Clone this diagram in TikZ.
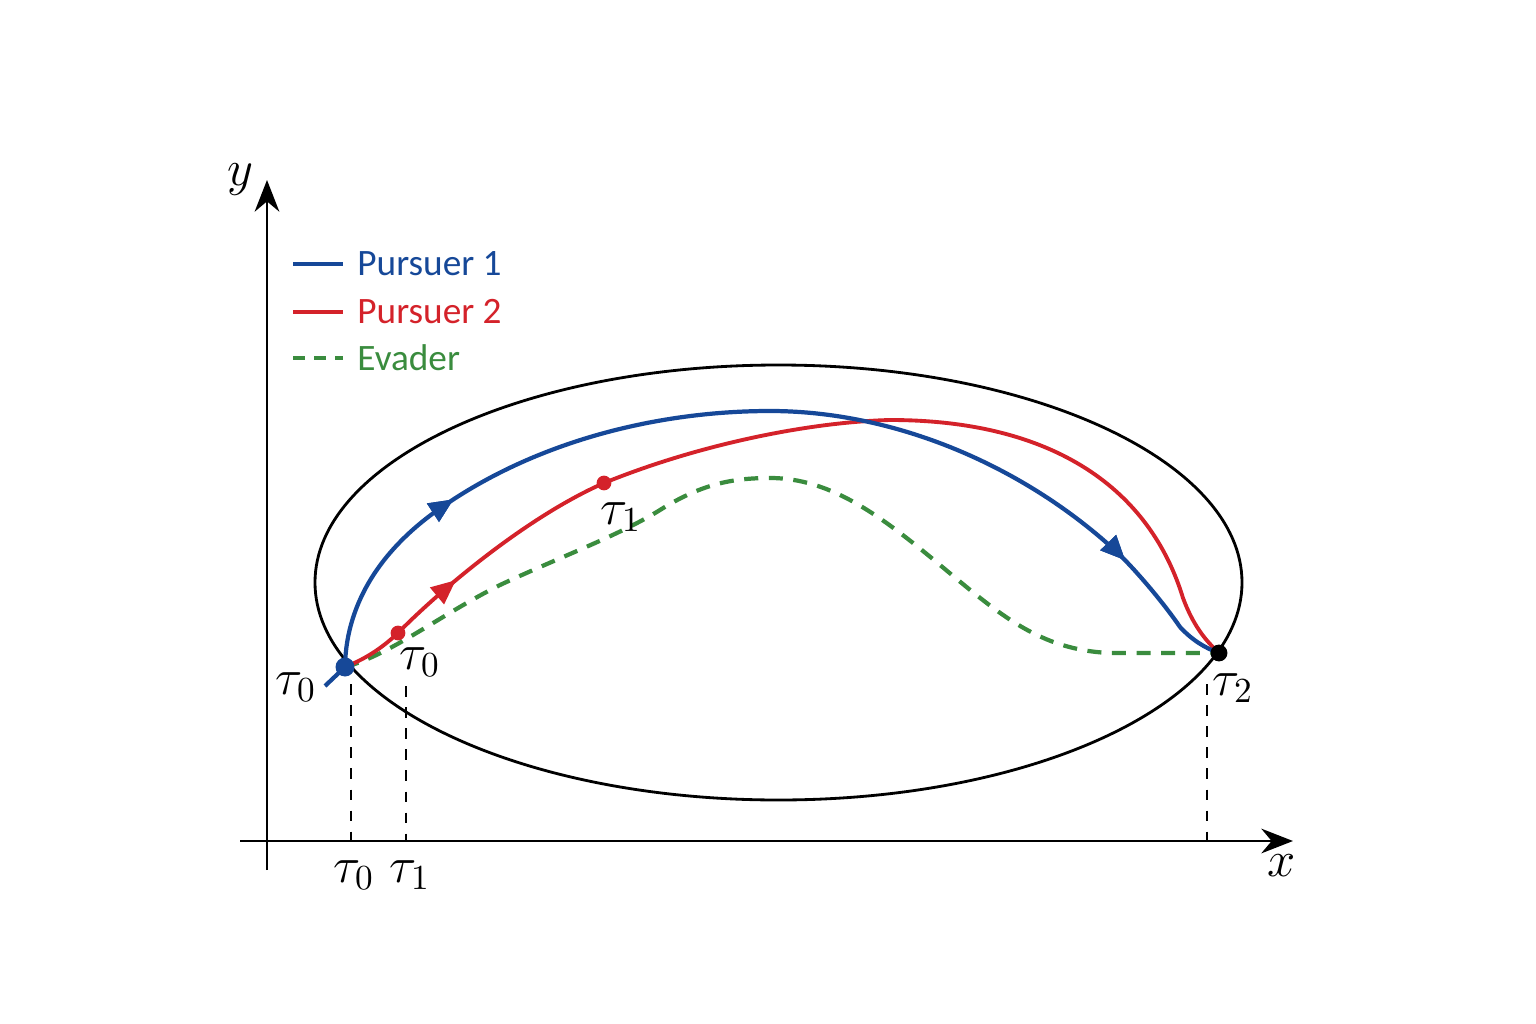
\documentclass[tikz,border=0pt]{standalone}
\usepackage{fontspec}
\newfontfamily\legfont{Carlito}
\usetikzlibrary{arrows.meta,decorations.markings}
\definecolor{pblue}{RGB}{22,72,152}
\definecolor{pred}{RGB}{212,34,42}
\definecolor{egreen}{RGB}{58,140,62}
\tikzset{
  path1/.style={pblue, line width=1.2pt},
  path2/.style={pred, line width=1.1pt},
  evpath/.style={egreen, line width=1.2pt, dash pattern=on 4pt off 3pt},
  midarrow/.style={postaction={decorate}, decoration={markings,
      mark=at position #1 with {\arrow{Triangle[length=7pt,width=6pt]}}}},
  tlabel/.style={font=\fontsize{14}{16}\selectfont},
  leglabel/.style={anchor=west, inner sep=0pt, xshift=3.4pt, font=\legfont\fontsize{10.6}{13}\selectfont},
  guide/.style={dashed, line width=0.5pt},
}
\begin{document}
\begin{tikzpicture}[x=0.01cm,y=-0.01cm]
        \useasboundingbox (0,0) rectangle (1536,1024);
        %assi
        \draw[line width=0.8pt, -{Stealth[length=9pt,width=7pt]}] (267,870) -- (267,180);
        \draw[line width=0.8pt, -{Stealth[length=9pt,width=7pt]}] (240,841) -- (1293,841);
        \node[tlabel] (ylab) at (240,180) {$y$};
        \node[tlabel] (xlab) at (1282,866) {$x$};
        %regione
        \draw[line width=0.8pt] (778.5,582.5) ellipse [x radius=463.5, y radius=217.5];
        %punti
        \coordinate (S) at (345,667);
        \coordinate (R0) at (398,633);
        \coordinate (R1) at (604,483);
        \coordinate (C) at (1219,653);
        %linee tratteggiate
        \draw[guide] (351,684) -- (351,841);
        \draw[guide] (406,686) -- (406,841);
        \draw[guide] (1207,684) -- (1207,841);
        %evasore
        \draw[evpath] (S) .. controls (390,655) and (440,615) .. (500,585)
            .. controls (560,557) and (620,535) .. (660,510)
            .. controls (700,485) and (730,478) .. (770,478)
            .. controls (830,478) and (880,515) .. (940,565)
            .. controls (1000,615) and (1040,650) .. (1110,653) -- (C);
        %inseguitore 2
        \draw[path2, midarrow=0.135] (S) .. controls (370,657) and (385,645) .. (R0)
            .. controls (430,600) and (520,520) .. (R1)
            .. controls (700,444) and (810,422) .. (890,420)
            .. controls (1055,420) and (1150,490) .. (1183,598)
            .. controls (1193,625) and (1205,640) .. (C);
        %inseguitore 1
        \draw[path1] (325,686) -- (S);
        \draw[path1, midarrow=0.195, midarrow=0.875] (S) .. controls (346,600) and (385,545) .. (445,505)
            .. controls (540,440) and (660,411) .. (770,411)
            .. controls (900,411) and (1030,470) .. (1120,555)
            .. controls (1140,575) and (1165,605) .. (1180,627)
            .. controls (1192,640) and (1205,648) .. (C);
        \fill[pred] (R0) circle (2.1pt) (R1) circle (2.1pt);
        \fill[pblue] (S) circle (2.7pt);
        \fill[black] (C) circle (2.4pt);
        %etichette
        \node[tlabel] (l0) at (296,687) {$\tau_0$};
        \node[tlabel] (l0b) at (420,662) {$\tau_0$};
        \node[tlabel] (l1) at (621,517) {$\tau_1$};
        \node[tlabel] (l2) at (1233,688) {$\tau_2$};
        \node[tlabel] (a0) at (354,875) {$\tau_0$};
        \node[tlabel] (a1) at (410,875) {$\tau_1$};
        %legenda
        \draw[path1, line width=1.4pt] (293,264) -- (343,264) node[leglabel, pblue]{Pursuer 1};
        \draw[path2, line width=1.4pt] (293,312) -- (343,312) node[leglabel, pred]{Pursuer 2};
        \draw[evpath, line width=1.4pt, dash pattern=on 3.5pt off 2.5pt] (293,358) -- (343,358) node[leglabel, egreen]{Evader};
\end{tikzpicture}
\end{document}
